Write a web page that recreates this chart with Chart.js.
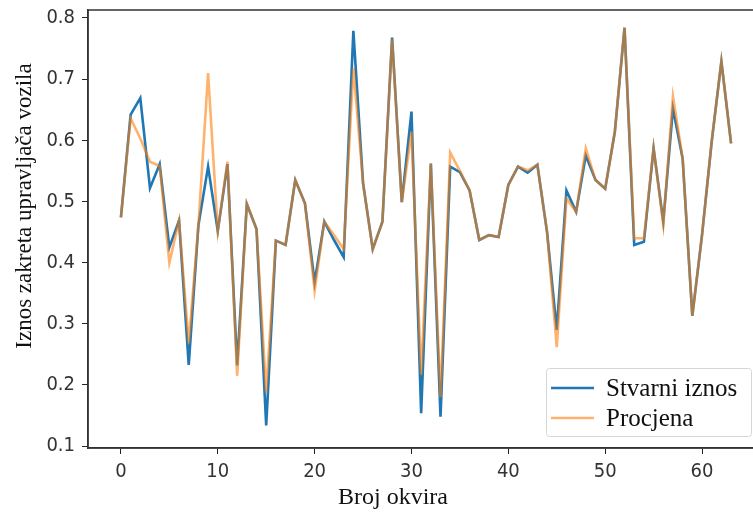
<!DOCTYPE html>
<html>
<head>
<meta charset="utf-8">
<script src="https://cdn.jsdelivr.net/npm/chart.js@4.4.1/dist/chart.umd.min.js"></script>
<style>
  html, body { margin:0; padding:0; background:#fff; overflow:hidden; }
  #wrap { width:768px; height:515px; }
</style>
</head>
<body>
<div id="wrap"><canvas id="chart" width="768" height="515"></canvas></div>
<script>
// Broj okvira (frame index)
const frames = [0,1,2,3,4,5,6,7,8,9,10,11,12,13,14,15,16,17,18,19,20,21,22,23,24,25,26,27,28,29,30,31,
  32,33,34,35,36,37,38,39,40,41,42,43,44,45,46,47,48,49,50,51,52,53,54,55,56,57,58,59,60,61,62,63];

// Stvarni iznos (actual)
const stvarni = [0.474,0.642,0.669,0.522,0.561,0.425,0.469,0.233,0.461,0.557,0.452,0.561,0.232,0.496,0.455,0.134,
  0.436,0.429,0.535,0.497,0.368,0.467,0.437,0.409,0.779,0.530,0.422,0.467,0.768,0.499,0.647,0.154,
  0.562,0.148,0.557,0.548,0.518,0.437,0.445,0.442,0.527,0.557,0.547,0.560,0.450,0.290,0.518,0.483,
  0.575,0.535,0.521,0.614,0.784,0.429,0.434,0.587,0.467,0.652,0.570,0.313,0.445,0.598,0.729,0.595];

// Procjena (estimate)
const procjena = [0.474,0.636,0.603,0.565,0.558,0.400,0.469,0.268,0.461,0.710,0.452,0.565,0.215,0.496,0.455,0.188,
  0.436,0.429,0.535,0.497,0.354,0.467,0.445,0.422,0.718,0.530,0.422,0.467,0.765,0.499,0.614,0.217,
  0.562,0.180,0.580,0.550,0.518,0.437,0.445,0.442,0.527,0.557,0.551,0.560,0.450,0.262,0.505,0.483,
  0.587,0.535,0.521,0.614,0.784,0.440,0.440,0.587,0.462,0.672,0.570,0.313,0.445,0.598,0.729,0.595];

const xTicks = [0,10,20,30,40,50,60];
const yTicks = [0.1,0.2,0.3,0.4,0.5,0.6,0.7,0.8];
const xTitle = 'Broj okvira';
const yTitle = 'Iznos zakreta upravljača vozila';

const sans = '"DejaVu Sans Condensed","Liberation Sans",sans-serif';
const serif = '"Liberation Serif","DejaVu Serif",serif';

const BLUE = '#1f77b4';
const ORANGE = 'rgba(255,127,14,0.6)';

// box round the axes, axis titles, legend in lower right
const frameAndLegend = {
  id:'frameAndLegend',
  afterDatasetsDraw(chart){
    const {ctx, chartArea:a} = chart;
    ctx.save();
    ctx.strokeStyle = '#333';
    ctx.lineWidth = 1.5;
    ctx.strokeRect(a.left, a.top, a.right - a.left, a.bottom - a.top);

    // titles
    ctx.fillStyle = '#111';
    ctx.textAlign = 'center';
    ctx.textBaseline = 'middle';
    ctx.font = '24px ' + serif;
    ctx.fillText(xTitle, 393, 498);
    ctx.save();
    ctx.translate(25, 206);
    ctx.rotate(-Math.PI / 2);
    ctx.font = '23px ' + serif;
    ctx.fillText(yTitle, 0, 0);
    ctx.restore();

    // legend
    const w = 205, h = 68;
    const x = a.right - 13 - w, y = a.bottom - 12 - h;
    ctx.fillStyle = 'rgba(255,255,255,0.85)';
    ctx.strokeStyle = '#d6d6d6';
    ctx.lineWidth = 1;
    ctx.beginPath();
    ctx.roundRect(x + 0.5, y + 0.5, w, h, 3);
    ctx.fill(); ctx.stroke();
    ctx.font = '25px ' + serif;
    ctx.textAlign = 'left';
    chart.data.datasets.forEach((ds, i) => {
      const ly = y + 20 + i * 30;
      ctx.strokeStyle = ds.borderColor;
      ctx.lineWidth = 2.6;
      ctx.beginPath(); ctx.moveTo(x + 5, ly); ctx.lineTo(x + 48, ly); ctx.stroke();
      ctx.fillStyle = '#111';
      ctx.fillText(ds.label, x + 60, ly + 1);
    });
    ctx.restore();
  }
};

new Chart(document.getElementById('chart').getContext('2d'), {
  type:'line',
  data:{
    datasets:[
      {label:'Stvarni iznos', data:frames.map((f,i)=>({x:f, y:stvarni[i]})), borderColor:BLUE, borderWidth:2.6, pointRadius:0, tension:0, order:1},
      {label:'Procjena', data:frames.map((f,i)=>({x:f, y:procjena[i]})), borderColor:ORANGE, borderWidth:2.6, pointRadius:0, tension:0, order:0}
    ]
  },
  options:{
    responsive:false,
    animation:false,
    layout:{padding:{left:0, right:4, top:10, bottom:0}},
    plugins:{legend:{display:false}, tooltip:{enabled:false}},
    scales:{
      x:{
        type:'linear', min:-3.4, max:66.4,
        afterBuildTicks: s => { s.ticks = xTicks.map(v => ({value:v})); },
        afterFit: s => { s.height = 67; },
        ticks:{font:{family:sans, size:20}, color:'#333', padding:6, maxRotation:0},
        grid:{drawOnChartArea:false, drawTicks:true, tickLength:6, color:'#222', lineWidth:1},
        border:{display:true, color:'#333', width:1.5}
      },
      y:{
        type:'linear', min:0.097, max:0.813,
        afterBuildTicks: s => { s.ticks = yTicks.map(v => ({value:v})); },
        afterFit: s => { s.width = 88; },
        ticks:{font:{family:sans, size:20, lineHeight:0.3}, color:'#333', padding:7, callback:v => v.toFixed(1)},
        grid:{drawOnChartArea:false, drawTicks:true, tickLength:6, color:'#222', lineWidth:1},
        border:{display:true, color:'#333', width:1.5}
      }
    }
  },
  plugins:[frameAndLegend]
});
</script>
</body>
</html>
